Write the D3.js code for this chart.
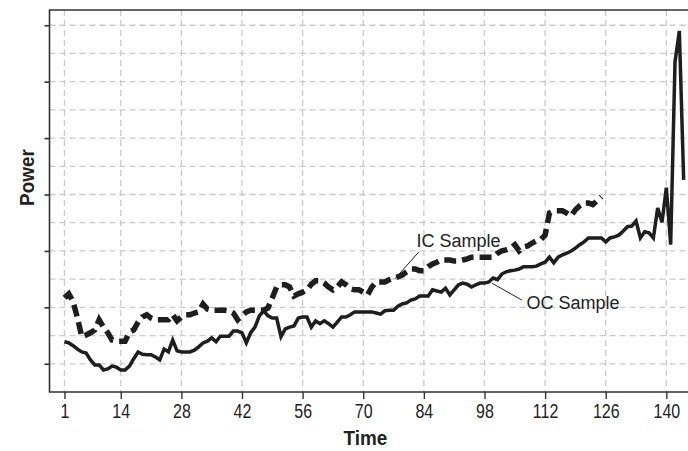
<!DOCTYPE html>
<html>
<head>
<meta charset="utf-8">
<script src="https://cdn.jsdelivr.net/npm/d3@7"></script>
<style>
  body { margin: 0; background: #fff; }
  svg { display: block; }
  .tick-label { font-family: 'Liberation Sans', Arial, sans-serif; font-size: 19.5px; fill: #222; }
  .axis-title { font-family: 'Liberation Sans', Arial, sans-serif; font-size: 21px; font-weight: bold; fill: #222; }
  .note { font-family: 'Liberation Sans', Arial, sans-serif; font-size: 18px; fill: #222; }
</style>
</head>
<body>
<svg id="chart" width="688" height="451"></svg>
<script>
// time ticks on the x axis
const xTicks = [1, 14, 28, 42, 56, 70, 84, 98, 112, 126, 140];
// y ticks (unlabelled) and grid levels
const yTicks = [0.1, 0.2, 0.3, 0.4, 0.5, 0.6, 0.7];
const yGrid = [0.1, 0.15, 0.2, 0.25, 0.3, 0.35, 0.4, 0.45, 0.5, 0.55, 0.6, 0.65, 0.7];

// OC sample power, t = 1..144
const ocPower = [
  0.139, 0.137, 0.132, 0.126, 0.121, 0.119, 0.107, 0.098, 0.098, 0.089,
  0.091, 0.096, 0.094, 0.089, 0.089, 0.096, 0.109, 0.121, 0.117, 0.116,
  0.116, 0.112, 0.107, 0.126, 0.121, 0.142, 0.123, 0.121, 0.121, 0.121,
  0.124, 0.130, 0.137, 0.140, 0.146, 0.139, 0.149, 0.149, 0.149, 0.158,
  0.158, 0.155, 0.137, 0.155, 0.165, 0.185, 0.194, 0.185, 0.181, 0.181,
  0.148, 0.162, 0.165, 0.167, 0.181, 0.183, 0.183, 0.165, 0.176, 0.171,
  0.176, 0.171, 0.165, 0.174, 0.183, 0.183, 0.187, 0.192, 0.192, 0.192,
  0.192, 0.192, 0.190, 0.188, 0.194, 0.195, 0.195, 0.202, 0.206, 0.208,
  0.213, 0.215, 0.220, 0.220, 0.220, 0.231, 0.229, 0.227, 0.234, 0.222,
  0.231, 0.240, 0.243, 0.241, 0.236, 0.240, 0.243, 0.243, 0.245, 0.252,
  0.249, 0.259, 0.263, 0.265, 0.266, 0.268, 0.272, 0.272, 0.272, 0.273,
  0.277, 0.280, 0.289, 0.279, 0.289, 0.293, 0.296, 0.300, 0.305, 0.311,
  0.316, 0.323, 0.323, 0.323, 0.323, 0.316, 0.323, 0.325, 0.328, 0.335,
  0.343, 0.344, 0.353, 0.323, 0.334, 0.332, 0.323, 0.376, 0.351, 0.412,
  0.311, 0.635, 0.690, 0.426
];

// IC sample power, t = 1..125
const icPower = [
  0.217, 0.224, 0.210, 0.181, 0.148, 0.151, 0.155, 0.160, 0.178, 0.165,
  0.155, 0.142, 0.140, 0.140, 0.140, 0.156, 0.160, 0.174, 0.183, 0.187,
  0.181, 0.178, 0.178, 0.178, 0.178, 0.187, 0.176, 0.183, 0.187, 0.187,
  0.190, 0.192, 0.206, 0.197, 0.195, 0.195, 0.195, 0.195, 0.194, 0.190,
  0.178, 0.185, 0.192, 0.195, 0.195, 0.195, 0.195, 0.199, 0.217, 0.236,
  0.240, 0.240, 0.236, 0.220, 0.224, 0.227, 0.231, 0.241, 0.247, 0.247,
  0.243, 0.236, 0.231, 0.236, 0.245, 0.240, 0.233, 0.231, 0.231, 0.227,
  0.222, 0.236, 0.245, 0.245, 0.245, 0.249, 0.252, 0.254, 0.257, 0.263,
  0.268, 0.268, 0.265, 0.265, 0.272, 0.277, 0.280, 0.284, 0.284, 0.284,
  0.282, 0.282, 0.284, 0.286, 0.289, 0.289, 0.289, 0.289, 0.289, 0.289,
  0.296, 0.300, 0.302, 0.305, 0.311, 0.300, 0.307, 0.309, 0.314, 0.318,
  0.320, 0.328, 0.367, 0.371, 0.371, 0.371, 0.367, 0.362, 0.373, 0.380,
  0.385, 0.385, 0.382, 0.389, 0.396
];

const svg = d3.select('#chart');
const mLeft = 49.5, mTop = 10, mBottom = 392, mRight = 688;

const x = d3.scaleLinear().domain([-2.46, 145]).range([mLeft, mRight]);
const y = d3.scaleLinear().domain([0.05, 0.727]).range([mBottom, mTop]);

// grid
const grid = svg.append('g')
  .attr('stroke', '#cbcbcb')
  .attr('stroke-width', 1.3)
  .attr('stroke-dasharray', '6,4');

grid.selectAll('.hg')
  .data(yGrid)
  .join('line')
  .attr('x1', mLeft).attr('x2', mRight + 5)
  .attr('y1', (d) => y(d)).attr('y2', (d) => y(d));

grid.selectAll('.vg')
  .data(xTicks)
  .join('line')
  .attr('x1', (d) => x(d)).attr('x2', (d) => x(d))
  .attr('y1', mTop).attr('y2', mBottom);

// frame
svg.append('path')
  .attr('d', `M${mRight + 5},${mTop}H${mLeft}V${mBottom}H${mRight + 5}`)
  .attr('fill', 'none')
  .attr('stroke', '#333')
  .attr('stroke-width', 1.6);

// x axis
const xAxis = d3.axisBottom(x)
  .tickValues(xTicks)
  .tickSize(7)
  .tickPadding(5)
  .tickFormat(d3.format('d'));

const gx = svg.append('g')
  .attr('transform', `translate(0,${mBottom})`)
  .call(xAxis);
gx.select('.domain').remove();
gx.attr('font-family', null).attr('font-size', null);
gx.selectAll('.tick line').attr('stroke', '#333').attr('stroke-width', 1.4);
// condensed look for the tick numbers
gx.selectAll('.tick text')
  .attr('class', 'tick-label')
  .attr('fill', null)
  .attr('transform', 'scale(0.82,1)');

// y axis ticks without labels
const yAxis = d3.axisLeft(y)
  .tickValues(yTicks)
  .tickSize(5)
  .tickFormat('');

const gy = svg.append('g')
  .attr('transform', `translate(${mLeft},0)`)
  .call(yAxis);
gy.select('.domain').remove();
gy.selectAll('.tick line').attr('stroke', '#333').attr('stroke-width', 1.6);

// axis titles
svg.append('text')
  .attr('class', 'axis-title')
  .attr('transform', `translate(${x(70.5)},445) scale(0.9,1)`)
  .attr('text-anchor', 'middle')
  .text('Time');

svg.append('text')
  .attr('class', 'axis-title')
  .attr('transform', `translate(34,${y(0.43)}) rotate(-90) scale(0.9,1)`)
  .attr('text-anchor', 'middle')
  .text('Power');

// series
const line = d3.line()
  .x((d, i) => x(i + 1))
  .y((d) => y(d));

svg.append('path')
  .datum(icPower)
  .attr('d', line)
  .attr('fill', 'none')
  .attr('stroke', '#1e1e1e')
  .attr('stroke-width', 5.5)
  .attr('stroke-dasharray', '12,6');

svg.append('path')
  .datum(ocPower)
  .attr('d', line)
  .attr('fill', 'none')
  .attr('stroke', '#1e1e1e')
  .attr('stroke-width', 3.5)
  .attr('stroke-linejoin', 'miter');

// labels with leader lines
svg.append('line')
  .attr('x1', x(77.3)).attr('y1', y(0.2505))
  .attr('x2', x(82.8)).attr('y2', y(0.298))
  .attr('stroke', '#222').attr('stroke-width', 1);

svg.append('text')
  .attr('class', 'note')
  .attr('x', x(82.3))
  .attr('y', y(0.3))
  .attr('dy', '-0.2em')
  .text('IC Sample');

svg.append('line')
  .attr('x1', x(99.7)).attr('y1', y(0.243))
  .attr('x2', x(106.6)).attr('y2', y(0.213))
  .attr('stroke', '#222').attr('stroke-width', 1);

svg.append('text')
  .attr('class', 'note')
  .attr('x', x(107.7))
  .attr('y', y(0.2))
  .attr('dy', '0.1em')
  .text('OC Sample');
</script>
</body>
</html>
